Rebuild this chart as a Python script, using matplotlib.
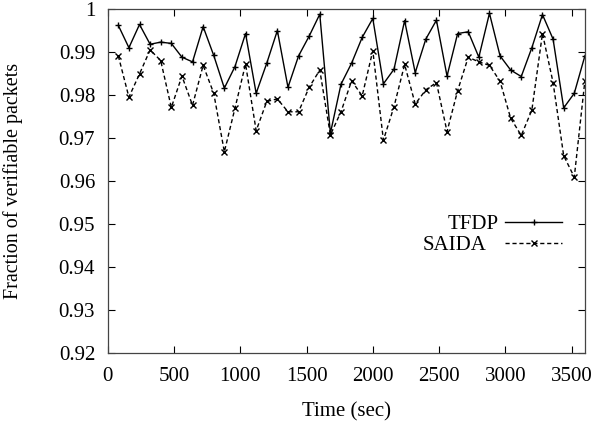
import matplotlib
matplotlib.use("Agg")
import matplotlib.pyplot as plt
from matplotlib.ticker import FuncFormatter, MultipleLocator

plt.rcParams['font.family'] = ['Liberation Serif', 'DejaVu Serif']

# time stamps (sec)
times = [80 * k for k in range(1, 46)]

tfdp = [0.9962, 0.9910, 0.9964, 0.9918, 0.9923, 0.9920, 0.9888, 0.9877, 0.9959,
        0.9892, 0.9816, 0.9866, 0.9943, 0.9804, 0.9874, 0.9950, 0.9818, 0.9891,
        0.9937, 0.9988, 0.9711, 0.9825, 0.9874, 0.9934, 0.9978, 0.9826, 0.9860,
        0.9973, 0.9852, 0.9930, 0.9974, 0.9844, 0.9943, 0.9947, 0.9888, 0.9990,
        0.9891, 0.9858, 0.9843, 0.9910, 0.9987, 0.9930, 0.9770, 0.9804, 0.9891]

saida = [0.9891, 0.9795, 0.9849, 0.9905, 0.9880, 0.9771, 0.9844, 0.9776, 0.9869,
         0.9804, 0.9668, 0.9769, 0.9872, 0.9717, 0.9785, 0.9791, 0.9761, 0.9761,
         0.9818, 0.9858, 0.9707, 0.9761, 0.9833, 0.9798, 0.9903, 0.9695, 0.9773,
         0.9871, 0.9779, 0.9812, 0.9829, 0.9715, 0.9810, 0.9888, 0.9877, 0.9869,
         0.9832, 0.9746, 0.9706, 0.9765, 0.9943, 0.9829, 0.9659, 0.9609, 0.9833]

fig = plt.figure(figsize=(5.95, 4.23), dpi=100)
ax = fig.add_axes([0.181, 0.1655, 0.802, 0.8132])

ax.plot(times, tfdp, color='black', lw=1.0, marker='+', ms=5, mew=1.0,
        label='TFDP')
ax.plot(times, saida, color='black', lw=1.0, ls=(0, (3, 2)), marker='x',
        ms=4, mew=1.0, label='SAIDA')

ax.set_xlim(0, 3600)
ax.set_ylim(0.92, 1.0)
ax.xaxis.set_major_locator(MultipleLocator(500))
ax.yaxis.set_major_locator(MultipleLocator(0.01))
ax.yaxis.set_major_formatter(FuncFormatter(lambda v, p: '%g' % round(v, 4)))
ax.tick_params(direction='in', top=True, right=True, length=5, width=0.8,
               labelsize=15)
ax.tick_params(axis='x', pad=10)
ax.tick_params(axis='y', pad=9)
for s in ax.spines.values():
    s.set_linewidth(0.9)
    s.set_color('#444444')

ax.set_xlabel('Time (sec)', fontsize=15, labelpad=12)
ax.set_ylabel('Fraction of verifiable packets', fontsize=14.5, labelpad=26)

leg = ax.legend(loc='center right', bbox_to_anchor=(0.983, 0.343),
                markerfirst=False, frameon=False, fontsize=15,
                handlelength=2.75, handletextpad=0.9, labelspacing=0.08,
                borderpad=0.2)

# right-align legend texts like gnuplot
fig.canvas.draw()
r = fig.canvas.get_renderer()
widths = [t.get_window_extent(r).width for t in leg.get_texts()]
mw = max(widths)
for t, w in zip(leg.get_texts(), widths):
    t.set_ha('right')
    t.set_position((mw - w, 0))

fig.savefig('out.png', dpi=100)
